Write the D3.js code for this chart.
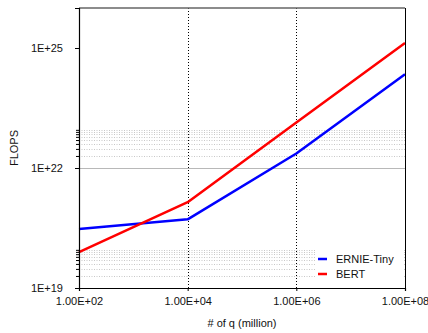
<!DOCTYPE html>
<html>
<head>
<meta charset="utf-8">
<script src="https://cdn.jsdelivr.net/npm/d3@7"></script>
<style>
  body { margin: 0; background: #fff; }
  svg text { font-family: "Liberation Sans", Arial, sans-serif; fill: #111; }
</style>
</head>
<body>
<svg id="chart" width="428" height="333"></svg>
<script>
// Data
const queries = [1e2, 1e4, 1e6, 1e8];          // # of q (million)
const ernieTiny = [3.0e20, 5.2e20, 2.3e22, 2.2e24];
const bert = [7.9e19, 1.4e21, 1.37e23, 1.33e25];
const seriesNames = ["ERNIE-Tiny", "BERT"];
const seriesColors = ["#0000ff", "#ff0000"];

const xTicks = [1e2, 1e4, 1e6, 1e8];
const xDotted = [1e4, 1e6];
const yTicks = [1e19, 1e22, 1e25];
const yMinor = [2, 3, 4, 5, 6, 7, 8, 9].flatMap(k => [k * 1e19, k * 1e22]);
const yGrid = [1e22];

const m = {top: 8, right: 23, bottom: 45, left: 79};
const W = 428, H = 333;

const svg = d3.select("#chart");

const x = d3.scaleLog().domain([1e2, 1e8]).range([m.left, W - m.right]);
const y = d3.scaleLog().domain([1e19, 1e26]).range([H - m.bottom, m.top]);

// minor dotted gridlines
svg.append("g")
    .selectAll("line")
    .data(yMinor)
    .join("line")
    .attr("x1", m.left).attr("x2", W - m.right)
    .attr("y1", d => Math.round(y(d)) + 0.5).attr("y2", d => Math.round(y(d)) + 0.5)
    .attr("stroke", "#c8c8c8")
    .attr("stroke-dasharray", "1,1.5");

// major gridline
svg.append("g")
    .selectAll("line")
    .data(yGrid)
    .join("line")
    .attr("x1", m.left).attr("x2", W - m.right)
    .attr("y1", d => Math.round(y(d)) + 0.5).attr("y2", d => Math.round(y(d)) + 0.5)
    .attr("stroke", "#b8b8b8");

// vertical dotted lines
svg.append("g")
    .selectAll("line")
    .data(xDotted)
    .join("line")
    .attr("x1", d => Math.round(x(d)) + 0.5).attr("x2", d => Math.round(x(d)) + 0.5)
    .attr("y1", m.top).attr("y2", H - m.bottom)
    .attr("stroke", "#000")
    .attr("stroke-dasharray", "1,2");

// legend background
const lg = svg.append("g").attr("transform", "translate(316, 250)");
lg.append("rect").attr("width", 88).attr("height", 33).attr("fill", "#fff");

// series lines
const line = d3.line().x(d => x(d[0])).y(d => y(d[1]));
[ernieTiny, bert].forEach((vals, i) => {
    svg.append("path")
        .datum(queries.map((q, j) => [q, vals[j]]))
        .attr("d", line)
        .attr("fill", "none")
        .attr("stroke", seriesColors[i])
        .attr("stroke-width", 2.5)
        .attr("stroke-linejoin", "round");
});

// legend entries
seriesNames.forEach((name, i) => {
    const gy = 9 + i * 15;
    lg.append("line")
        .attr("x1", 2).attr("x2", 11)
        .attr("y1", gy).attr("y2", gy)
        .attr("stroke", seriesColors[i])
        .attr("stroke-width", 2.5);
    lg.append("text")
        .attr("x", 20).attr("y", gy + 4)
        .attr("font-size", "11px")
        .text(name);
});

// frame
svg.append("line")
    .attr("x1", m.left).attr("x2", W - m.right)
    .attr("y1", m.top).attr("y2", m.top)
    .attr("stroke", "#666").attr("stroke-width", 1.5);
svg.append("line")
    .attr("x1", W - m.right + 0.5).attr("x2", W - m.right + 0.5)
    .attr("y1", m.top).attr("y2", H - m.bottom)
    .attr("stroke", "#000");

// axes
const yAxis = d3.axisLeft(y)
    .tickValues(yTicks)
    .tickSize(4)
    .tickPadding(12)
    .tickFormat(d => "1E+" + Math.round(Math.log10(d)));
const gy = svg.append("g").attr("transform", `translate(${m.left},0)`).call(yAxis);
gy.select(".domain").attr("stroke", "#000").attr("stroke-width", 1.2);
gy.selectAll("text").attr("font-size", "11px").attr("font-family", "Liberation Sans, Arial, sans-serif").attr("fill", "#111");

const yMinorAxis = d3.axisLeft(y).tickValues(yMinor).tickSize(3).tickFormat("");
const gym = svg.append("g").attr("transform", `translate(${m.left},0)`).call(yMinorAxis);
gym.select(".domain").remove();

const xAxis = d3.axisBottom(x)
    .tickValues(xTicks)
    .tickSize(3)
    .tickPadding(6)
    .tickFormat(d => "1.00E+" + String(Math.round(Math.log10(d))).padStart(2, "0"));
const gx = svg.append("g").attr("transform", `translate(0,${H - m.bottom})`).call(xAxis);
gx.select(".domain").attr("stroke", "#000").attr("stroke-width", 1.2);
gx.selectAll("text").attr("font-size", "11px").attr("font-family", "Liberation Sans, Arial, sans-serif").attr("fill", "#111");

// axis titles
svg.append("text")
    .attr("x", (m.left + W - m.right) / 2)
    .attr("y", 327)
    .attr("text-anchor", "middle")
    .attr("font-size", "11px")
    .text("# of q (million)");

svg.append("text")
    .attr("transform", `translate(18,${(m.top + H - m.bottom) / 2}) rotate(-90)`)
    .attr("text-anchor", "middle")
    .attr("font-size", "11px")
    .text("FLOPS");
</script>
</body>
</html>
